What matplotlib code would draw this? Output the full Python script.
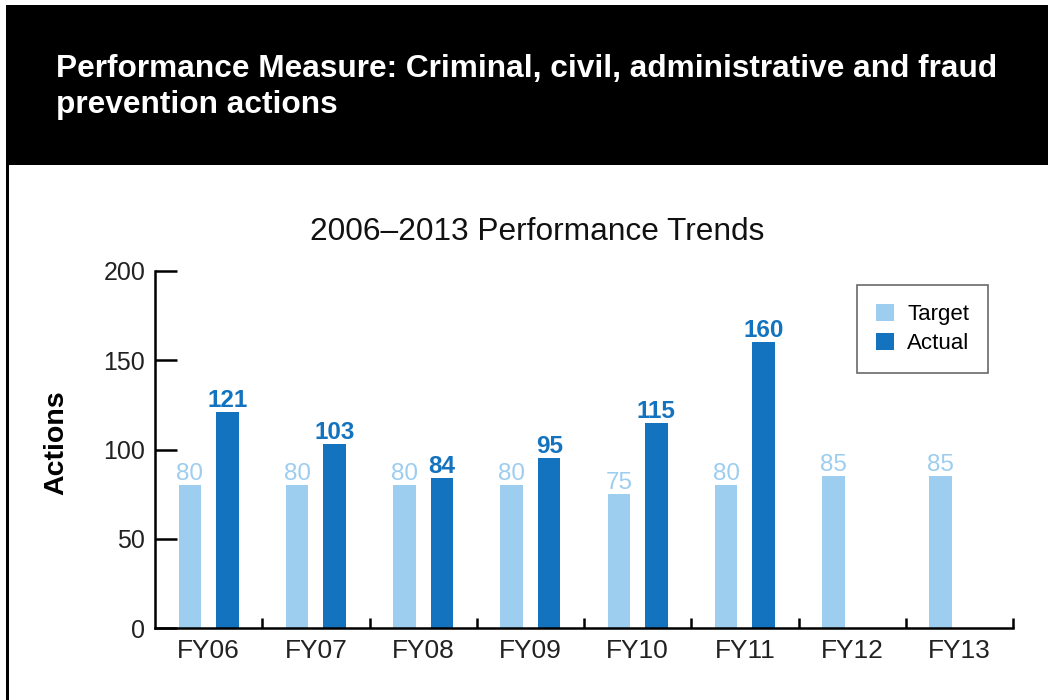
import numpy as np
import matplotlib.pyplot as plt
from matplotlib.patches import Rectangle

years = ['FY06', 'FY07', 'FY08', 'FY09', 'FY10', 'FY11', 'FY12', 'FY13']
target = [80, 80, 80, 80, 75, 80, 85, 85]
actual = [121, 103, 84, 95, 115, 160, None, None]

LIGHT = '#9dcdef'
DARK = '#1373be'

plt.rcParams['font.family'] = ['Liberation Sans', 'DejaVu Sans']


def main():
    W, H = 1048, 700
    fig = plt.figure(figsize=(W / 100, H / 100), dpi=100)

    # black header and left border
    fig.patches.append(Rectangle((6 / W, 1 - 165 / H), 1, 160 / H, transform=fig.transFigure,
                                 facecolor='black', edgecolor='none'))
    fig.patches.append(Rectangle((6 / W, 0), 3 / W, 1 - 165 / H, transform=fig.transFigure,
                                 facecolor='black', edgecolor='none'))
    fig.text(56 / W, 1 - 69 / H, 'Performance Measure: Criminal, civil, administrative and fraud',
             color='white', fontsize=22.8, fontweight='bold', va='center', ha='left')
    fig.text(56 / W, 1 - 105 / H, 'prevention actions',
             color='white', fontsize=22.8, fontweight='bold', va='center', ha='left')

    # axes: x from 155 to 1013 px, y from 628 (0) to 271 (200)
    ax = fig.add_axes([155 / W, 1 - 628 / H, (1013 - 155) / W, (628 - 271) / H])
    x = np.arange(len(years))
    off = 0.175
    bw = 0.21
    ax.bar(x - off, target, bw, color=LIGHT, label='Target')
    ax_vals = [v if v is not None else 0 for v in actual]
    bars = ax.bar(x + off, ax_vals, bw, color=DARK, label='Actual')
    for i, v in enumerate(actual):
        if v is None:
            bars[i].set_visible(False)

    for i, v in enumerate(target):
        ax.text(x[i] - off, v, str(v), ha='center', va='bottom', color=LIGHT,
                fontsize=17.5)
    for i, v in enumerate(actual):
        if v is not None:
            ax.text(x[i] + off, v, str(v), ha='center', va='bottom', color=DARK,
                    fontsize=17.5, fontweight='bold')

    ax.set_xlim(-0.5, len(years) - 0.5)
    ax.set_ylim(0, 200)
    ax.set_yticks([0, 50, 100, 150, 200])
    ax.set_xticks(x)
    ax.set_xticklabels(years)
    ax.set_xticks(np.arange(0.5, len(years), 1), minor=True)
    ax.tick_params(axis='x', which='major', length=0, labelsize=19, pad=8, colors='#222222')
    ax.tick_params(axis='x', which='minor', length=7, width=1.8, direction='in')
    ax.tick_params(axis='y', length=16, width=1.8, direction='in', labelsize=18,
                   pad=7, colors='#222222')
    for s in ['top', 'right']:
        ax.spines[s].set_visible(False)
    ax.spines['left'].set_linewidth(1.8)
    ax.spines['bottom'].set_linewidth(1.8)
    ax.tick_params(axis='y', which='both', color='black')

    ax.set_ylabel('Actions', fontsize=20.5, fontweight='bold')
    ax.yaxis.set_label_coords(-(155 - 69) / (1013 - 155), 0.52)
    fig.text(537 / W, 1 - 232 / H, '2006\u20132013 Performance Trends', fontsize=22.8,
             ha='center', va='center', color='#111111')

    leg = ax.legend(loc='upper left', bbox_to_anchor=((857 - 155) / 858, (628 - 285) / 357),
                    fontsize=16, frameon=True, fancybox=False, edgecolor='#444444',
                    handlelength=0.8, handleheight=0.8, borderpad=0.85,
                    labelspacing=0.35, handletextpad=0.6, borderaxespad=0)
    leg.get_frame().set_linewidth(1.2)

    fig.savefig('out.png', dpi=100)


if __name__ == "__main__":
    main()
